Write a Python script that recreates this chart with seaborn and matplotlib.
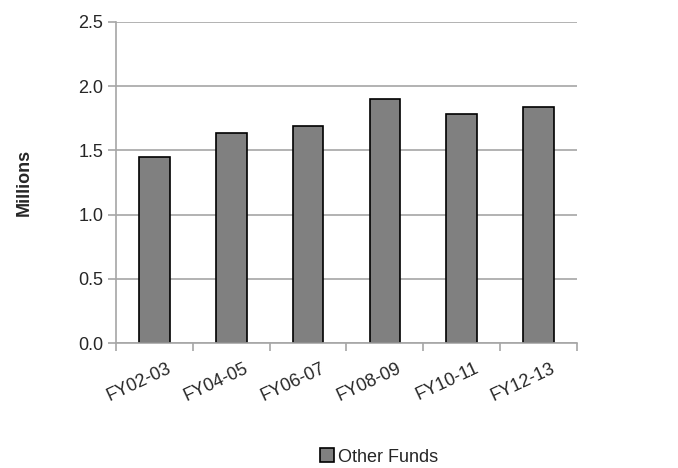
import matplotlib
matplotlib.use("Agg")
import matplotlib.pyplot as plt
import seaborn as sns
import numpy as np

periods = ["FY02-03", "FY04-05", "FY06-07", "FY08-09", "FY10-11", "FY12-13"]
other_funds = [1.446, 1.637, 1.694, 1.904, 1.782, 1.839]

sns.set_style("white")
plt.rcParams["font.family"] = ["Liberation Sans Narrow", "Liberation Sans", "DejaVu Sans"]

fig = plt.figure(figsize=(6.78, 4.68), dpi=100)
ax = fig.add_axes([0.171, 0.267, 0.68, 0.686])

sns.barplot(x=periods, y=other_funds, color="#808080", edgecolor="black",
            linewidth=1.2, width=0.4, saturation=1, label="Other Funds", ax=ax)

ax.set_ylim(0, 2.5)
ax.set_xlim(-0.5, len(periods) - 0.5)
ax.set_yticks(np.arange(0, 2.51, 0.5))
ax.set_yticklabels([f"{v:.1f}" for v in np.arange(0, 2.51, 0.5)], fontsize=13)
ax.yaxis.grid(True, color="#a6a6a6", linewidth=1.2)
ax.set_axisbelow(True)

# labels slightly right of category centres, ticks at category boundaries
ax.set_xticks(np.arange(len(periods)) + 0.16)
ax.set_xticklabels(periods, fontsize=13, rotation=25, ha="right", rotation_mode="anchor")
ax.tick_params(axis="x", length=0, pad=12)
ax.set_xticks(np.arange(len(periods) + 1) - 0.5, minor=True)
ax.tick_params(axis="x", which="minor", length=6, color="#a6a6a6", width=1.2, direction="out", bottom=True)
ax.tick_params(axis="y", length=6, color="#a6a6a6", width=1.2, direction="out", left=True, pad=3)

for side in ["top", "right"]:
    ax.spines[side].set_visible(False)
for side in ["left", "bottom"]:
    ax.spines[side].set_color("#a6a6a6")
    ax.spines[side].set_linewidth(1.2)

ax.set_ylabel("Millions", fontsize=13, fontweight="bold", labelpad=33)
ax.set_xlabel("")

ax.legend(loc="center", bbox_to_anchor=(0.559, 0.0235), bbox_transform=fig.transFigure,
          frameon=False, fontsize=13, handlelength=0.8, handleheight=0.8, handletextpad=0.2)

fig.savefig("out.png", dpi=100)
